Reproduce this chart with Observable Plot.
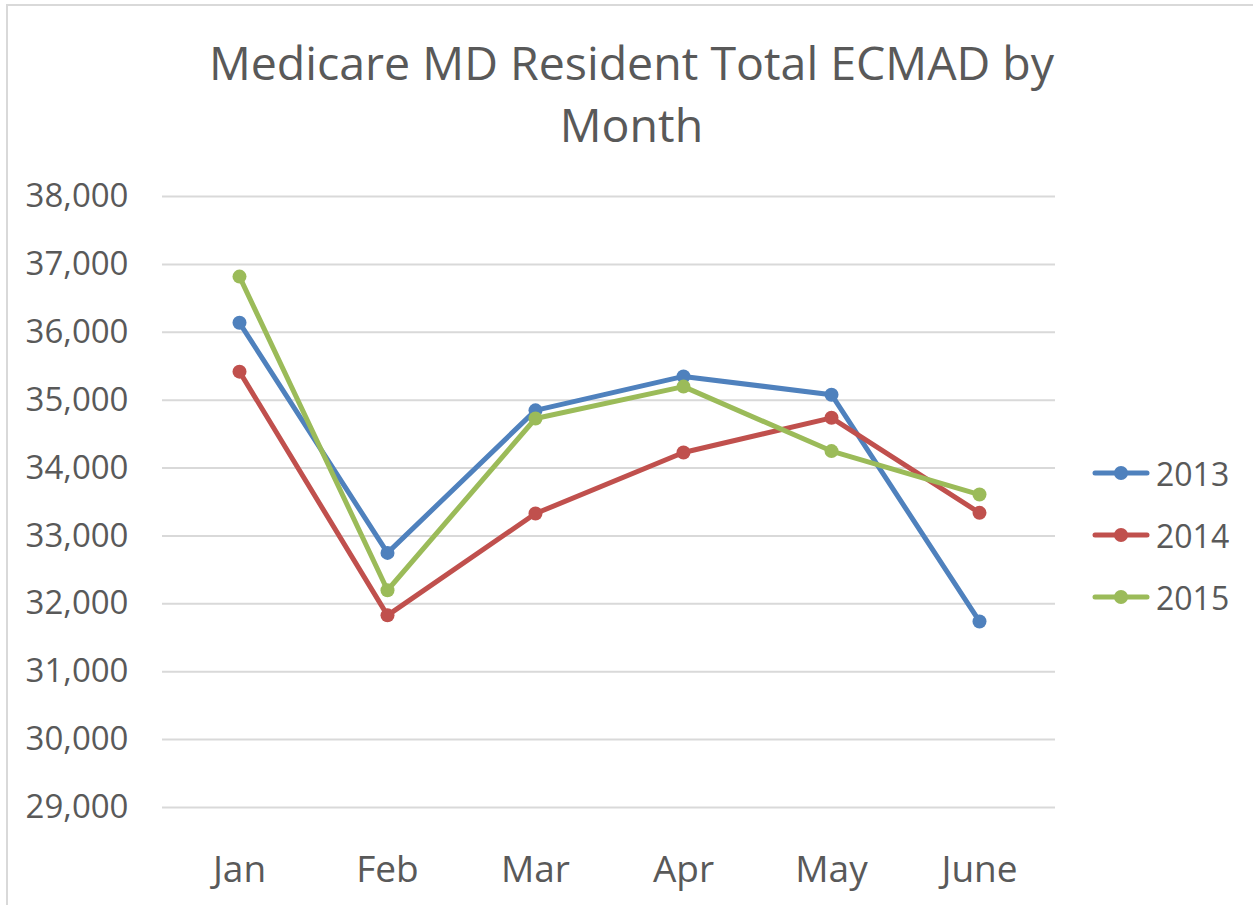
<!DOCTYPE html>
<html>
<head>
<meta charset="utf-8">
<script src="https://cdn.jsdelivr.net/npm/d3@7"></script>
<script src="https://cdn.jsdelivr.net/npm/@observablehq/plot@0.6"></script>
<style>
  html, body { margin: 0; padding: 0; background: #fff; }
  #wrap { position: relative; width: 1253px; height: 905px; overflow: hidden; font-family: "Open Sans", sans-serif; color: #595959; }
  #border { position: absolute; left: 6px; top: 4px; width: 1260px; height: 910px; border-left: 2px solid #d9d9d9; border-top: 2px solid #d9d9d9; box-sizing: border-box; }
  #title { position: absolute; left: 0; top: 31px; width: 1253px; text-align: center; font-size: 46.5px; line-height: 62px; padding-left: 10px; box-sizing: border-box; }
  #chart { position: absolute; left: 0; top: 150px; }
  #legend { position: absolute; left: 1090px; top: 442px; }
  .item { display: flex; align-items: center; height: 62px; font-size: 32px; }
  .item svg { margin-right: 4px; }
</style>
</head>
<body>
<div id="wrap">
  <div id="border"></div>
  <div id="title">Medicare MD Resident Total ECMAD by<br>Month</div>
  <div id="chart"></div>
  <div id="legend"></div>
</div>
<script>
const months = ["Jan", "Feb", "Mar", "Apr", "May", "June"];
const years = ["2013", "2014", "2015"];
const colors = ["#4F81BD", "#C0504D", "#9BBB59"];
const values2013 = [36140, 32750, 34850, 35350, 35080, 31740];
const values2014 = [35420, 31830, 33330, 34230, 34740, 33340];
const values2015 = [36820, 32200, 34730, 35200, 34250, 33610];
const yTicks = [29000, 30000, 31000, 32000, 33000, 34000, 35000, 36000, 37000, 38000];

const seriesValues = [values2013, values2014, values2015];
const data = [];
years.forEach((yr, i) => months.forEach((m, j) => data.push({year: yr, month: m, value: seriesValues[i][j]})));

const plot = Plot.plot({
  width: 1253,
  height: 755,
  marginTop: 46,
  marginBottom: 98,
  marginLeft: 162,
  marginRight: 198,
  style: {color: "#595959", fontFamily: "Open Sans, sans-serif", background: "transparent"},
  x: {type: "point", domain: months, padding: 0.5, label: null},
  y: {domain: [29000, 38000], label: null},
  color: {domain: years, range: colors},
  marks: [
    Plot.gridY(yTicks, {stroke: "#d9d9d9", strokeOpacity: 1, strokeWidth: 2}),
    Plot.axisY({ticks: yTicks, tickFormat: d3.format(","), tickSize: 0, tickPadding: 34, fontSize: 33, label: null}),
    Plot.axisX({tickSize: 0, tickPadding: 48, fontSize: 37, label: null}),
    Plot.line(data, {x: "month", y: "value", z: "year", stroke: "year", strokeWidth: 5, strokeLinejoin: "round", strokeLinecap: "round"}),
    Plot.dot(data, {x: "month", y: "value", fill: "year", r: 7, stroke: "none"})
  ]
});
document.getElementById("chart").appendChild(plot);

const legend = d3.select("#legend");
years.forEach((yr, i) => {
  const item = legend.append("div").attr("class", "item");
  const svg = item.append("svg").attr("width", 62).attr("height", 20);
  svg.append("line").attr("x1", 5).attr("x2", 57).attr("y1", 10).attr("y2", 10)
    .attr("stroke", colors[i]).attr("stroke-width", 5).attr("stroke-linecap", "round");
  svg.append("circle").attr("cx", 31).attr("cy", 10).attr("r", 7).attr("fill", colors[i]);
  item.append("span").text(yr);
});
</script>
</body>
</html>
